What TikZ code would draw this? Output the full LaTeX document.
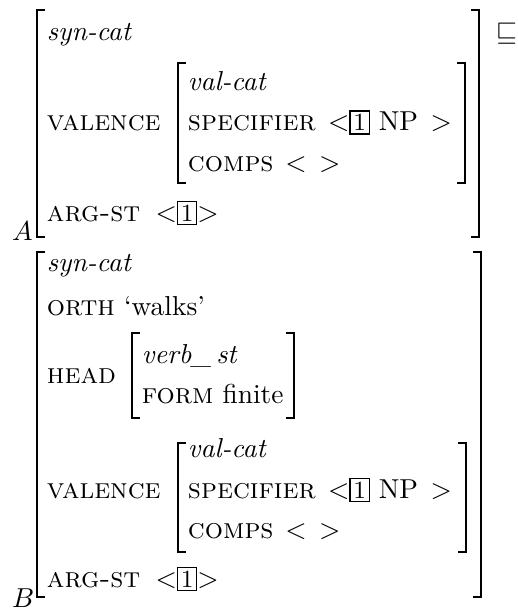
\documentclass[tikz,border=0pt]{standalone}
\setlength{\fboxsep}{1pt}
\newcommand{\tagbox}[1]{\fbox{\small #1}}
\newcommand{\feat}[1]{{\fontsize{10.45}{12}\selectfont\textsc{#1}}}
\begin{document}
\begin{tikzpicture}[x=0.365pt,y=-0.365pt,
  txt/.style={anchor=base west,inner sep=0pt,outer sep=0pt},
  brk/.style={line width=0.85pt,line cap=butt,line join=miter}]
\useasboundingbox (0,0) rectangle (518,611);
% ---------- AVM A ----------
\draw[brk] (45,10) -- (37,10) -- (37,237) -- (45,237);
\draw[brk] (471,10) -- (479,10) -- (479,237) -- (471,237);
\node[txt] (asyn) at (47,40.7) {\textit{syn-cat}};
\node[txt] (aval) at (47,130.7) {\feat{valence}};
\draw[brk] (186,63) -- (178,63) -- (178,183) -- (186,183);
\draw[brk] (457,63) -- (465,63) -- (465,183) -- (457,183);
\node[txt] (avc) at (188,90) {\textit{val-cat}};
\node[txt] (aspec) at (188,130.7) {\feat{specifier}\hspace{4.5pt}$<$\tagbox{1}\hspace{3.3pt}NP\hspace{4.6pt}$>$};
\node[txt] (acomps) at (188,171) {\feat{comps}\hspace{4.3pt}$<$\hspace{4.6pt}$>$};
\node[txt] (aarg) at (47,221) {\feat{arg-st}\hspace{5.6pt}$<$\tagbox{1}$>$};
\node[txt] (alab) at (12,240) {$A$};
\node[txt] (sub) at (496,40) {$\sqsubseteq$};
% ---------- AVM B ----------
\draw[brk] (45,252) -- (37,252) -- (37,597) -- (45,597);
\draw[brk] (473,252) -- (481,252) -- (481,597) -- (473,597);
\node[txt] (bsyn) at (47,271.7) {\textit{syn-cat}};
\node[txt] (borth) at (47,315) {\feat{orth} `walks'};
\node[txt] (bhead) at (47,383) {\feat{head}};
\draw[brk] (140,333) -- (132,333) -- (132,418) -- (140,418);
\draw[brk] (286,333) -- (294,333) -- (294,418) -- (286,418);
\node[txt] (bverb) at (142,363) {\textit{verb\_\,st}};
\node[txt] (bform) at (142,403) {\feat{form} finite};
\node[txt] (bval) at (47,498) {\feat{valence}};
\draw[brk] (186,443) -- (178,443) -- (178,552) -- (186,552);
\draw[brk] (458,443) -- (466,443) -- (466,552) -- (458,552);
\node[txt] (bvc) at (188,457) {\textit{val-cat}};
\node[txt] (bspec) at (188,498) {\feat{specifier}\hspace{4.5pt}$<$\tagbox{1}\hspace{3.3pt}NP\hspace{4.6pt}$>$};
\node[txt] (bcomps) at (188,538) {\feat{comps}\hspace{4.3pt}$<$\hspace{4.6pt}$>$};
\node[txt] (barg) at (47,587) {\feat{arg-st}\hspace{5.6pt}$<$\tagbox{1}$>$};
\node[txt] (blab) at (12,607) {$B$};
\end{tikzpicture}
\end{document}
